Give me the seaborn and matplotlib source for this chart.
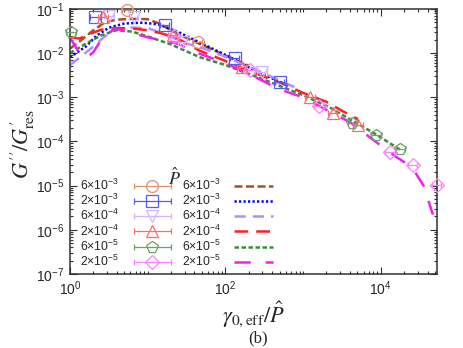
import numpy as np
import matplotlib
matplotlib.use("Agg")
import matplotlib.pyplot as plt
from matplotlib.ticker import LogLocator, NullFormatter
from matplotlib.container import ErrorbarContainer
from matplotlib.legend_handler import HandlerErrorbar
import seaborn as sns

# Legend labels (P-hat values)
p_labels = [r"$\mathdefault{6{\times}10^{-3}}$", r"$\mathdefault{2{\times}10^{-3}}$",
            r"$\mathdefault{6{\times}10^{-4}}$", r"$\mathdefault{2{\times}10^{-4}}$",
            r"$\mathdefault{6{\times}10^{-5}}$", r"$\mathdefault{2{\times}10^{-5}}$"]

# Simulation points (symbols with horizontal error bars)
pts_x_6e3 = [5.4, 44]
pts_y_6e3 = [0.095, 0.0178]
pts_x_2e3 = [2.1, 16.6, 132, 500]
pts_y_2e3 = [0.066, 0.044, 0.0078, 0.0022]
pts_x_6e4 = [3.2, 6.6, 28, 295]
pts_y_6e4 = [0.069, 0.066, 0.018, 0.0037]
pts_x_2e4 = [2.66, 21, 162, 1230, 2400, 5100]
pts_y_2e4 = [0.066, 0.026, 0.0049, 0.0010, 0.00045, 0.00024]
pts_x_6e5 = [1.03, 4300, 8700, 17800]
pts_y_6e5 = [0.030, 0.00026, 0.000141, 0.000068]
pts_x_2e5 = [22, 209, 1580, 13200, 25700, 52500]
pts_y_2e5 = [0.024, 0.0042, 0.00065, 0.0000575, 0.0000295, 0.0000105]

# Theory curves
line_x_6e3 = [1, 1.41, 2.0, 2.82, 3.98, 6.31, 10, 14.1, 20, 31.6, 56.2, 100, 200]
line_y_6e3 = [0.0126, 0.020, 0.033, 0.050, 0.0575, 0.060, 0.059, 0.047, 0.033, 0.022,
              0.0141, 0.0089, 0.0052]
line_x_2e3 = [1, 1.6, 2.2, 3.2, 5, 8, 10, 14.5, 26, 40, 115, 280, 590]
line_y_2e3 = [0.0081, 0.0141, 0.025, 0.038, 0.047, 0.049, 0.048, 0.044, 0.029, 0.020,
              0.0081, 0.0035, 0.0020]
line_x_6e4 = [1, 1.32, 2.0, 2.8, 4.0, 6.3, 10, 15.8, 31.6, 50, 100, 250, 500, 910]
line_y_6e4 = [0.0054, 0.0078, 0.0141, 0.024, 0.0355, 0.038, 0.037, 0.028, 0.0166, 0.0132,
              0.0083, 0.0042, 0.0024, 0.0015]
line_x_2e4 = [1, 1.32, 1.78, 2.5, 4.0, 6.3, 10, 15.8, 25, 45, 90, 200, 560, 1000, 2000,
              3200, 5100]
line_y_2e4 = [0.0234, 0.0214, 0.0269, 0.0339, 0.0372, 0.0363, 0.0331, 0.0275, 0.0209,
              0.0117, 0.0072, 0.0040, 0.0020, 0.00126, 0.00079, 0.00049, 0.00032]
line_x_6e5 = [1, 1.58, 2.5, 3.9, 6.3, 10, 20, 47, 100, 316, 1000, 2240, 4900, 8900, 17800]
line_y_6e5 = [0.0100, 0.0162, 0.0251, 0.0331, 0.0309, 0.0240, 0.0158, 0.0081, 0.0054,
              0.0025, 0.00112, 0.00058, 0.00026, 0.000141, 0.0000646]
line_x_2e5 = [1, 1.26, 1.58, 2.0, 2.63, 3.8, 6.3, 10, 25, 40, 100, 200, 500, 1000, 2000,
              4000, 7900, 15800, 25100, 35500, 46800]
line_y_2e5 = [0.0224, 0.0117, 0.0076, 0.0105, 0.0224, 0.0363, 0.0288, 0.0229, 0.0162,
              0.0107, 0.0060, 0.0034, 0.00151, 0.00100, 0.00052, 0.000275, 0.000110,
              0.0000447, 0.0000263, 0.0000100, 0.0000022]

pts = [(pts_x_6e3, pts_y_6e3), (pts_x_2e3, pts_y_2e3), (pts_x_6e4, pts_y_6e4),
       (pts_x_2e4, pts_y_2e4), (pts_x_6e5, pts_y_6e5), (pts_x_2e5, pts_y_2e5)]
lines = [(line_x_6e3, line_y_6e3), (line_x_2e3, line_y_2e3), (line_x_6e4, line_y_6e4),
         (line_x_2e4, line_y_2e4), (line_x_6e5, line_y_6e5), (line_x_2e5, line_y_2e5)]

marker_colors = ["#e0906c", "#5a5af0", "#d4b4ff", "#ff6a6a", "#6aa46a", "#ff80ff"]
markers = ["o", "s", "v", "^", "p", "D"]
marker_sizes = [8.5, 8.5, 8.5, 8.5, 8.5, 7]
line_colors = ["#a0522d", "#0000ff", "#b48cff", "#ff2020", "#3c8a3c", "#f020f0"]
line_styles = [(0, (3.2, 1.4)), (0, (0.9, 0.9)), (0, (4.5, 2.8)), (0, (5.5, 3.2)),
               (0, (1.8, 1.0)), (0, (6.5, 6.0))]

sns.set_theme(style="ticks")
plt.rcParams["font.family"] = ["Liberation Sans", "DejaVu Sans"]

fig = plt.figure(figsize=(4.63, 3.48), dpi=100)
ax = fig.add_axes([0.151, 0.213, 0.793, 0.761])

# theory curves
line_handles = []
for (lx, ly), col, ls, lab in zip(lines, line_colors, line_styles, p_labels):
    sns.lineplot(x=lx, y=ly, ax=ax, color=col, lw=1.8, linestyle=ls, sort=False,
                 estimator=None, label=lab, legend=False)
    line_handles.append(ax.lines[-1])

# simulation points
pt_handles = []
for (px, py), col, mk, ms, lab in zip(pts, marker_colors, markers, marker_sizes, p_labels):
    px = np.array(px)
    eb = ax.errorbar(px, py, xerr=[px - px / 1.15, px * 1.15 - px], fmt=mk, mfc="none",
                     mec=col, ecolor=col, ms=ms, mew=0.9, elinewidth=0.9, capsize=2,
                     label=lab, clip_on=False, zorder=3)
    pt_handles.append(eb)

ax.set_xscale("log")
ax.set_yscale("log")
ax.set_xlim(1, 5.3e4)
ax.set_ylim(1e-7, 1e-1)

ax.set_xticks([1, 1e2, 1e4])
ax.xaxis.set_minor_locator(LogLocator(base=10, subs=np.arange(1, 10), numticks=20))
ax.xaxis.set_minor_formatter(NullFormatter())
ax.yaxis.set_major_locator(LogLocator(base=10, numticks=10))
ax.yaxis.set_minor_locator(LogLocator(base=10, subs=np.arange(2, 10), numticks=20))
ax.yaxis.set_minor_formatter(NullFormatter())

ax.tick_params(which="both", direction="in", top=True, right=True, color="#303030",
               width=0.8, labelsize=10, pad=4)
ax.tick_params(which="major", length=5)
ax.tick_params(which="minor", length=2.5)
for sp in ax.spines.values():
    sp.set_color("#303030")
    sp.set_linewidth(1.1)

ax.set_ylabel(r"$G^{\prime\prime}/G^{\prime}_{\rm res}$", fontsize=16,
              math_fontfamily="stix")
ax.yaxis.set_label_coords(-0.09, 0.49)
ax.set_xlabel(r"$\gamma_{0,{\rm eff}}/\hat{P}$", fontsize=16, labelpad=1,
              math_fontfamily="stix")
fig.text(0.557, 0.006, "(b)", fontsize=12, family="Liberation Serif", ha="center",
         va="bottom")

leg = ax.legend(pt_handles + line_handles, p_labels + p_labels, ncol=2,
                markerfirst=False, frameon=False, fontsize=8.8,
                loc="lower left", bbox_to_anchor=(0.014, 0.0),
                handlelength=3.2, handletextpad=1.1, columnspacing=0.8,
                labelspacing=0.0, borderpad=0.2, borderaxespad=0.2, numpoints=1,
                handler_map={ErrorbarContainer: HandlerErrorbar(xerr_size=1.5)})
# legend heading
ax.text(0.286, 0.362, r"$\hat{P}$", transform=ax.transAxes, fontsize=13,
        ha="center", va="center", math_fontfamily="stix")

fig.savefig("out.png", dpi=100)
